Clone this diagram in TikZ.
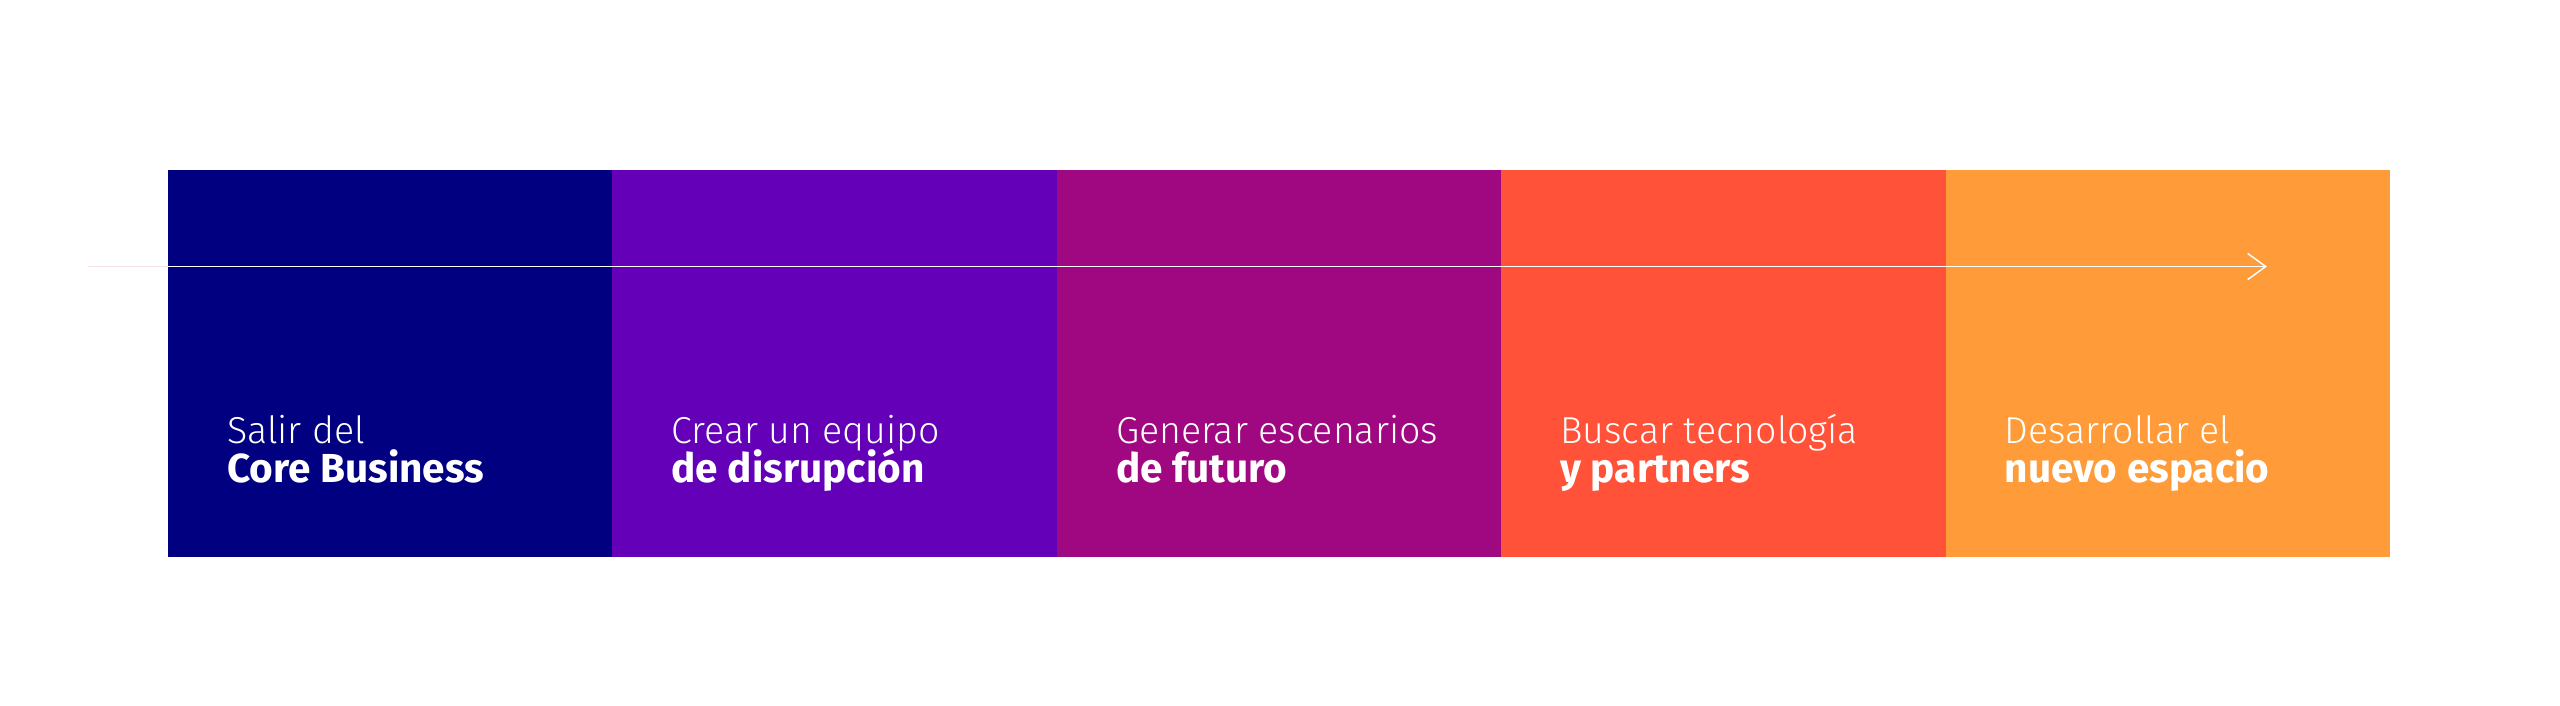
\documentclass[tikz,border=0pt]{standalone}
\usepackage{fontspec}
\usetikzlibrary{arrows.meta}
\IfFontExistsTF{Fira Sans Light}{\newfontfamily\lightf{Fira Sans Light}}{%
  \IfFontExistsTF{Lato Light}{\newfontfamily\lightf{Lato Light}}{\newfontfamily\lightf{Fira Sans}}}
\IfFontExistsTF{Fira Sans Bold}{\newfontfamily\boldf{Fira Sans Bold}}{\newfontfamily\boldf{Fira Sans}[UprightFont=*,BoldFont=*]\let\oldboldf\boldf\def\boldf{\oldboldf\bfseries}}
\definecolor{cA}{RGB}{0,0,128}
\definecolor{cB}{RGB}{99,0,184}
\definecolor{cC}{RGB}{160,8,130}
\definecolor{cD}{RGB}{255,82,56}
\definecolor{cE}{RGB}{255,155,57}
\definecolor{faint}{RGB}{248,228,236}
\tikzset{
  block/.style={fill=#1, draw=none, minimum width=444.4pt, minimum height=387pt, anchor=north west, inner sep=0pt, outer sep=0pt},
  lineA/.style={anchor=base west, inner sep=0pt, text=white, font=\lightf\fontsize{37.5}{45}\selectfont},
  lineB/.style={anchor=base west, inner sep=0pt, text=white, font=\boldf\fontsize{40.5}{48}\selectfont},
}
\begin{document}
\begin{tikzpicture}[x=1pt,y=-1pt]
\path[fill=white,use as bounding box] (0,0) rectangle (2560,705);
\node[block=cA] (b1) at (168,170) {};
\node[block=cB] (b2) at (b1.north east) {};
\node[block=cC] (b3) at (b2.north east) {};
\node[block=cD] (b4) at (b3.north east) {};
\node[block=cE] (b5) at (b4.north east) {};
\coordinate (s) at (88,266.5);
\coordinate (e) at (2267,266.5);
\draw[faint, line width=1.5pt] (s) -- (b1.west |- s);
\draw[white, line width=1.5pt, -{Straight Barb[length=18pt,width=26pt]}] (b1.west |- s) -- (e);
\foreach \i/\a/\b in {1/Salir del/Core Business, 2/Crear un equipo/de disrupción, 3/Generar escenarios/de futuro, 4/Buscar tecnología/y partners, 5/Desarrollar el/nuevo espacio}{
  \node[lineA] (t\i a) at ([xshift=59pt] b\i.north west |- 0,443) {\a};
  \node[lineB] (t\i b) at ([xshift=59pt] b\i.north west |- 0,482) {\b};
}
\end{tikzpicture}
\end{document}
